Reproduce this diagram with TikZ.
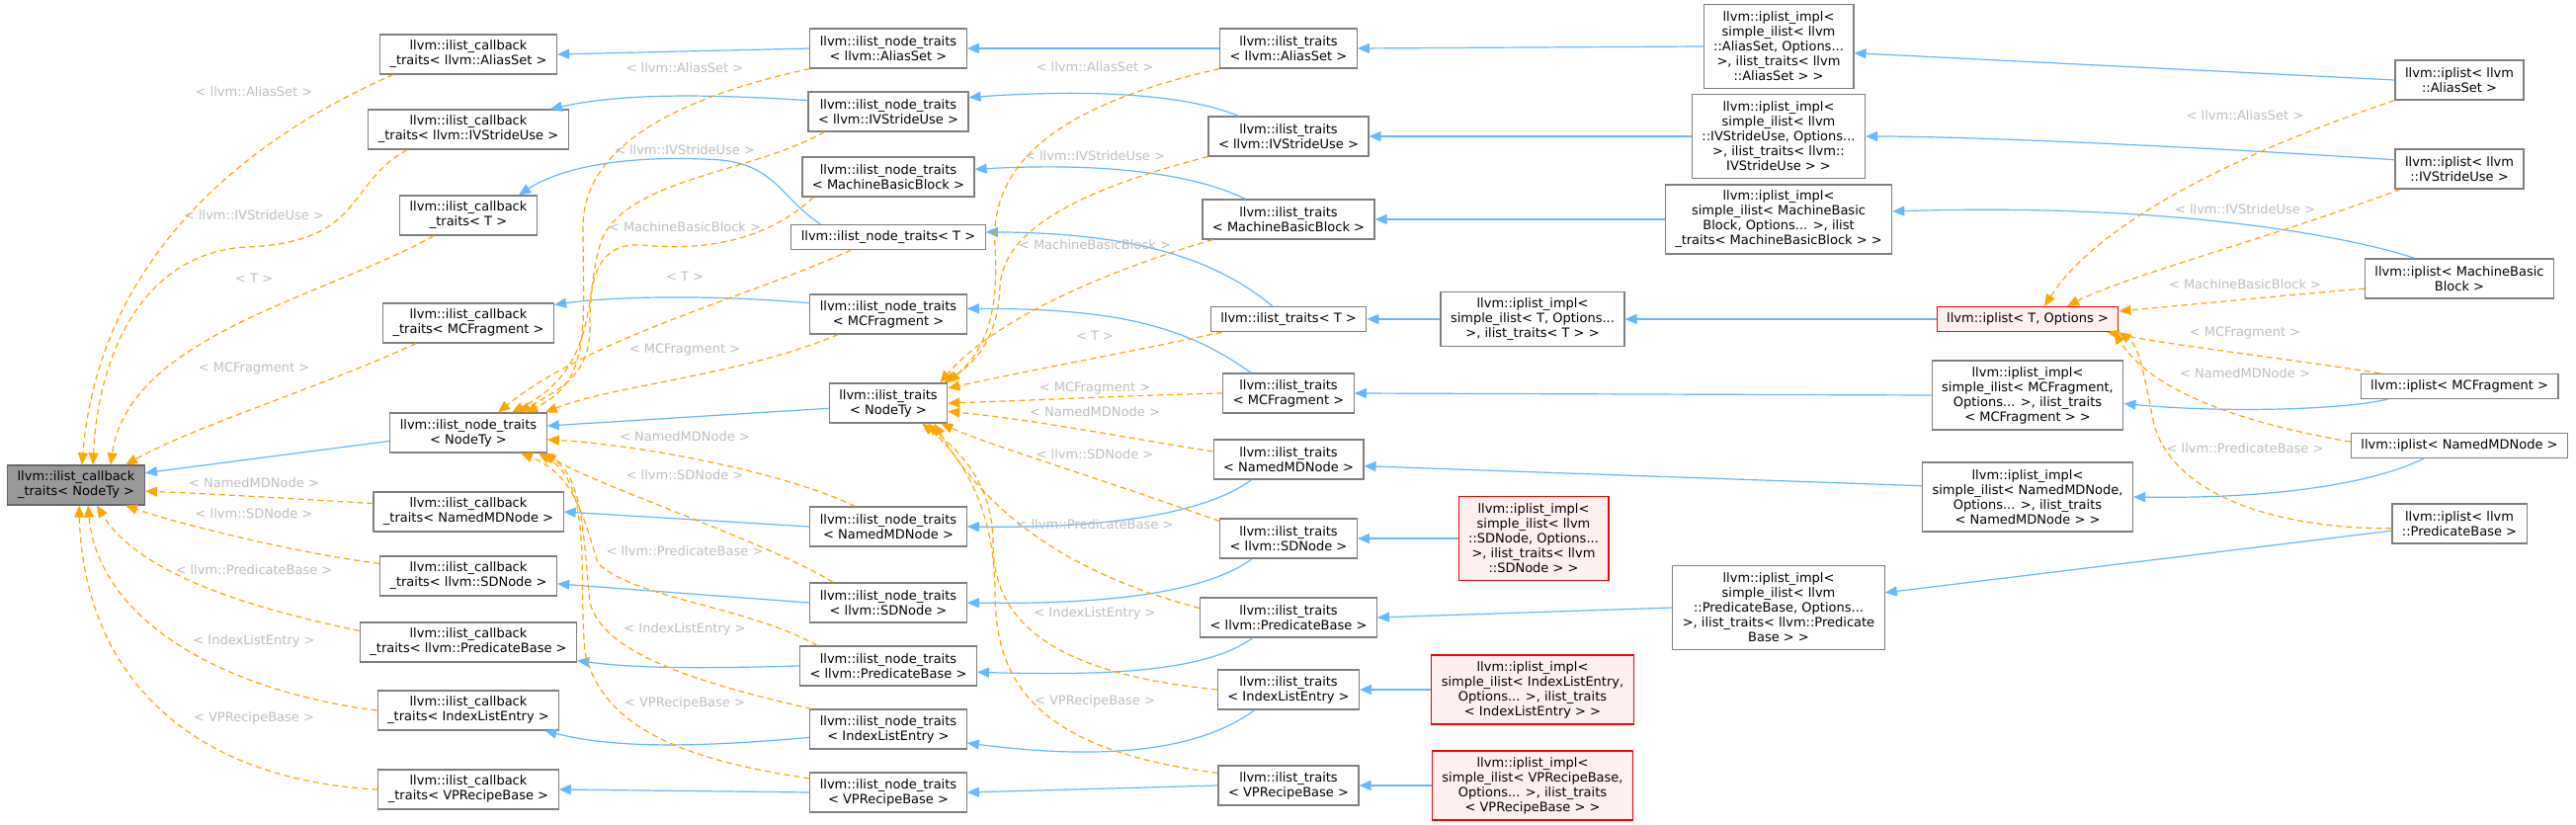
\documentclass[tikz,border=0pt]{standalone}
\usepackage{fontspec}
\setmainfont{DejaVu Sans}
\usetikzlibrary{arrows.meta}
\definecolor{inhblue}{HTML}{63B8FF}
\definecolor{tplorange}{HTML}{FFA500}
\definecolor{lblgray}{HTML}{BEBEBE}
\definecolor{boxgray}{HTML}{7F7F7F}
\definecolor{basegray}{HTML}{999999}
\definecolor{missfill}{HTML}{FFF0F0}

\begin{document}
\begin{tikzpicture}[
  x=1pt, y=-1pt,
  >={Triangle[length=12pt,width=10pt]},
  cls/.style  = {draw=boxgray, fill=white, line width=1.2pt, align=center,
                 inner xsep=10pt, inner ysep=0pt, font=\fontsize{13}{15}\selectfont},
  base/.style = {cls, draw=boxgray!80!black, fill=basegray},
  miss/.style = {cls, draw=red, fill=missfill},
  l1/.style   = {minimum height=25pt},
  l2/.style   = {minimum height=40pt},
  l3/.style   = {minimum height=55pt},
  l4/.style   = {minimum height=70pt},
  l5/.style   = {minimum height=85pt},
  inh/.style  = {->, draw=inhblue, line width=1.2pt},
  tpl/.style  = {->, draw=tplorange, line width=1.2pt, dash pattern=on 6pt off 4pt},
  lbl/.style  = {text=lblgray, inner sep=0pt, font=\fontsize{13}{15}\selectfont},
]
  \path[fill=white, use as bounding box] (0,0) rectangle (2607,835);

  \node[base, l2] (root) at (77,491)  {llvm::ilist\_callback\\\_traits< NodeTy >};

  \node[cls, l2]  (cbAS) at (474,55)  {llvm::ilist\_callback\\\_traits< llvm::AliasSet >};
  \node[cls, l2]  (cbIV) at (474,131) {llvm::ilist\_callback\\\_traits< llvm::IVStrideUse >};
  \node[cls, l2]  (cbT)  at (474,218) {llvm::ilist\_callback\\\_traits< T >};
  \node[cls, l2]  (cbMC) at (474,327) {llvm::ilist\_callback\\\_traits< MCFragment >};
  \node[cls, l2]  (ntNT) at (474,438) {llvm::ilist\_node\_traits\\< NodeTy >};
  \node[cls, l2]  (cbNM) at (474,518) {llvm::ilist\_callback\\\_traits< NamedMDNode >};
  \node[cls, l2]  (cbSD) at (474,583) {llvm::ilist\_callback\\\_traits< llvm::SDNode >};
  \node[cls, l2]  (cbPB) at (474,650) {llvm::ilist\_callback\\\_traits< llvm::PredicateBase >};
  \node[cls, l2]  (cbIL) at (474,719) {llvm::ilist\_callback\\\_traits< IndexListEntry >};
  \node[cls, l2]  (cbVP) at (474,799) {llvm::ilist\_callback\\\_traits< VPRecipeBase >};

  \node[cls, l2]  (ntAS) at (899,49)  {llvm::ilist\_node\_traits\\< llvm::AliasSet >};
  \node[cls, l2]  (ntIV) at (899,113) {llvm::ilist\_node\_traits\\< llvm::IVStrideUse >};
  \node[cls, l2]  (ntMB) at (899,179) {llvm::ilist\_node\_traits\\< MachineBasicBlock >};
  \node[cls, l1]  (ntT)  at (899,240) {llvm::ilist\_node\_traits< T >};
  \node[cls, l2]  (ntMC) at (899,318) {llvm::ilist\_node\_traits\\< MCFragment >};
  \node[cls, l2]  (tNT)  at (899,408) {llvm::ilist\_traits\\< NodeTy >};
  \node[cls, l2]  (ntNM) at (899,533) {llvm::ilist\_node\_traits\\< NamedMDNode >};
  \node[cls, l2]  (ntSD) at (899,610) {llvm::ilist\_node\_traits\\< llvm::SDNode >};
  \node[cls, l2]  (ntPB) at (899,674) {llvm::ilist\_node\_traits\\< llvm::PredicateBase >};
  \node[cls, l2]  (ntIL) at (899,738) {llvm::ilist\_node\_traits\\< IndexListEntry >};
  \node[cls, l2]  (ntVP) at (899,802) {llvm::ilist\_node\_traits\\< VPRecipeBase >};

  \node[cls, l2]  (tAS)  at (1304,49)  {llvm::ilist\_traits\\< llvm::AliasSet >};
  \node[cls, l2]  (tIV)  at (1304,138) {llvm::ilist\_traits\\< llvm::IVStrideUse >};
  \node[cls, l2]  (tMB)  at (1304,222) {llvm::ilist\_traits\\< MachineBasicBlock >};
  \node[cls, l1]  (tT)   at (1304,323) {llvm::ilist\_traits< T >};
  \node[cls, l2]  (tMC)  at (1304,398) {llvm::ilist\_traits\\< MCFragment >};
  \node[cls, l2]  (tNM)  at (1304,465) {llvm::ilist\_traits\\< NamedMDNode >};
  \node[cls, l2]  (tSD)  at (1304,545) {llvm::ilist\_traits\\< llvm::SDNode >};
  \node[cls, l2]  (tPB)  at (1304,625) {llvm::ilist\_traits\\< llvm::PredicateBase >};
  \node[cls, l2]  (tIL)  at (1304,698) {llvm::ilist\_traits\\< IndexListEntry >};
  \node[cls, l2]  (tVP)  at (1304,795) {llvm::ilist\_traits\\< VPRecipeBase >};

  \node[cls, l3]  (imT)  at (1551,323) {llvm::iplist\_impl<\\simple\_ilist< T, Options...\\>, ilist\_traits< T > >};
  \node[miss, l5] (imSD) at (1552,545) {llvm::iplist\_impl<\\simple\_ilist< llvm\\::SDNode, Options...\\>, ilist\_traits< llvm\\::SDNode > >};
  \node[miss, l4] (imIL) at (1551,698) {llvm::iplist\_impl<\\simple\_ilist< IndexListEntry,\\Options... >, ilist\_traits\\< IndexListEntry > >};
  \node[miss, l4] (imVP) at (1551,795) {llvm::iplist\_impl<\\simple\_ilist< VPRecipeBase,\\Options... >, ilist\_traits\\< VPRecipeBase > >};

  \node[cls, l5]  (imAS) at (1800,47)  {llvm::iplist\_impl<\\simple\_ilist< llvm\\::AliasSet, Options...\\>, ilist\_traits< llvm\\::AliasSet > >};
  \node[cls, l5]  (imIV) at (1800,138) {llvm::iplist\_impl<\\simple\_ilist< llvm\\::IVStrideUse, Options...\\>, ilist\_traits< llvm::\\IVStrideUse > >};
  \node[cls, l4]  (imMB) at (1800,222) {llvm::iplist\_impl<\\simple\_ilist< MachineBasic\\Block, Options... >, ilist\\\_traits< MachineBasicBlock > >};
  \node[cls, l5]  (imPB) at (1800,615) {llvm::iplist\_impl<\\simple\_ilist< llvm\\::PredicateBase, Options...\\>, ilist\_traits< llvm::Predicate\\Base > >};

  \node[miss, l1] (ipT)  at (2052,323) {llvm::iplist< T, Options >};
  \node[cls, l4]  (imMC) at (2052,400) {llvm::iplist\_impl<\\simple\_ilist< MCFragment,\\Options... >, ilist\_traits\\< MCFragment > >};
  \node[cls, l4]  (imNM) at (2052,503) {llvm::iplist\_impl<\\simple\_ilist< NamedMDNode,\\Options... >, ilist\_traits\\< NamedMDNode > >};

  \node[cls, l2]  (ipAS) at (2489,81)  {llvm::iplist< llvm\\::AliasSet >};
  \node[cls, l2]  (ipIV) at (2489,171) {llvm::iplist< llvm\\::IVStrideUse >};
  \node[cls, l2]  (ipMB) at (2489,282) {llvm::iplist< MachineBasic\\Block >};
  \node[cls, l1]  (ipMC) at (2489,391) {llvm::iplist< MCFragment >};
  \node[cls, l1]  (ipNM) at (2489,451) {llvm::iplist< NamedMDNode >};
  \node[cls, l2]  (ipPB) at (2489,530) {llvm::iplist< llvm\\::PredicateBase >};

  % inheritance
  \draw[inh] (ntNT.186) -- (root.10);
  \draw[inh] (ntAS.west) -- (cbAS.east);
  \draw[inh] (ntIV.172) .. controls (740,97) and (640,92) .. ([xshift=-19pt]cbIV.north east);
  \draw[inh] ([xshift=30pt]ntT.north west) .. controls (790,200) and (785,168) .. (730,162)
             .. controls (640,156) and (570,168) .. ([xshift=-19pt]cbT.north east);
  \draw[inh] (ntMC.172) .. controls (720,298) and (620,300) .. ([yshift=-2pt]cbMC.north east);
  \draw[inh] (ntNM.west) -- (cbNM.east);
  \draw[inh] (ntSD.west) -- (cbSD.355);
  \draw[inh] (ntPB.west) .. controls (700,677) and (640,676) .. ([yshift=2pt]cbPB.south east);
  \draw[inh] (ntIL.186) .. controls (700,757) and (620,757) .. ([xshift=-15pt]cbIL.south east);
  \draw[inh] (ntVP.west) -- (cbVP.east);

  \draw[inh] (tNT.185) -- (ntNT.5);
  \draw[inh] (tAS.west) -- (ntAS.east);
  \draw[inh] ([xshift=31pt]tIV.north west) .. controls (1200,95) and (1100,90) .. (ntIV.10);
  \draw[inh] ([xshift=44pt]tMB.north west) .. controls (1200,172) and (1100,165) .. (ntMB.5);
  \draw[inh] ([xshift=63pt]tT.north west) .. controls (1230,262) and (1150,236) .. (ntT.3);
  \draw[inh] ([xshift=29pt]tMC.north west) .. controls (1200,330) and (1130,312) .. (ntMC.4);
  \draw[inh] ([xshift=39pt]tNM.south west) .. controls (1220,520) and (1120,535) .. (ntNM.east);
  \draw[inh] ([xshift=33pt]tSD.south west) .. controls (1220,600) and (1120,612) .. (ntSD.east);
  \draw[inh] ([xshift=54pt]tPB.south west) .. controls (1220,680) and (1120,684) .. (ntPB.356);
  \draw[inh] ([xshift=38pt]tIL.south west) .. controls (1200,770) and (1080,765) .. (ntIL.350);
  \draw[inh] (tVP.west) -- (ntVP.east);

  \draw[inh] (imAS.west) -- (tAS.east);
  \draw[inh] (imIV.west) -- (tIV.east);
  \draw[inh] (imMB.west) -- (tMB.east);
  \draw[inh] (imT.west)  -- (tT.east);
  \draw[inh] (imMC.west) -- (tMC.east);
  \draw[inh] (imNM.174)  -- (tNM.355);
  \draw[inh] (imSD.west) -- (tSD.east);
  \draw[inh] (imPB.west) -- (tPB.east);
  \draw[inh] (imIL.west) -- (tIL.east);
  \draw[inh] (imVP.west) -- (tVP.east);

  \draw[inh] (ipT.west)  -- (imT.east);
  \draw[inh] (ipAS.west) -- (imAS.355);
  \draw[inh] (ipIV.172) .. controls (2250,150) and (2000,138) .. (imIV.east);
  \draw[inh] ([xshift=51pt]ipMB.north west) .. controls (2380,240) and (2200,205) .. (imMB.4);
  \draw[inh] ([xshift=28pt]ipMC.south west) .. controls (2370,415) and (2250,418) .. (imMC.355);
  \draw[inh] ([xshift=74pt]ipNM.south west) .. controls (2400,490) and (2300,505) .. (imNM.east);
  \draw[inh] (ipPB.186) -- (imPB.8);

  % template instances
  \draw[tpl] ([xshift=14pt]cbAS.south west) .. controls (250,140) and (100,260) .. ([xshift=6pt]root.north);
  \draw[tpl] ([xshift=40pt]cbIV.south west) .. controls (350,185) and (370,245) .. (250,250)
             .. controls (150,255) and (100,350) .. ([xshift=17pt]root.north);
  \draw[tpl] ([xshift=35pt]cbT.south west) .. controls (330,300) and (130,340) .. ([xshift=35pt]root.north);
  \draw[tpl] ([xshift=34pt]cbMC.south west) .. controls (330,390) and (200,430) .. ([xshift=-20pt]root.north east);
  \draw[tpl] (cbNM.175) .. controls (300,505) and (220,500) .. (root.355);
  \draw[tpl] (cbSD.172) .. controls (300,560) and (180,530) .. ([xshift=-20pt]root.south east);
  \draw[tpl] (cbPB.174) .. controls (250,615) and (140,580) .. ([xshift=21pt]root.south);
  \draw[tpl] (cbIL.west) .. controls (230,700) and (100,630) .. ([xshift=12pt]root.south);
  \draw[tpl] (cbVP.west) .. controls (200,790) and (85,690) .. ([xshift=3pt]root.south);

  \draw[tpl] (ntAS.south west) .. controls (680,100) and (590,150) .. (590,230)
             .. controls (590,330) and (600,385) .. ([xshift=58pt]ntNT.north);
  \draw[tpl] ([xshift=17pt]ntIV.south west) .. controls (760,175) and (640,180) .. (610,240)
             .. controls (590,290) and (610,370) .. ([xshift=44pt]ntNT.north);
  \draw[tpl] ([xshift=12pt]ntMB.south west) .. controls (780,240) and (720,255) .. (650,248)
             .. controls (600,245) and (597,290) .. (597,330)
             .. controls (598,380) and (565,395) .. ([xshift=51pt]ntNT.north);
  \draw[tpl] ([xshift=61pt]ntT.south west) .. controls (760,300) and (600,340) .. ([xshift=30pt]ntNT.north);
  \draw[tpl] ([xshift=29pt]ntMC.south west) .. controls (750,380) and (620,390) .. ([xshift=-2pt]ntNT.north east);
  \draw[tpl] ([xshift=46pt]ntNM.north west) .. controls (800,480) and (650,450) .. (ntNT.355);
  \draw[tpl] ([xshift=24pt]ntSD.north west) .. controls (780,550) and (600,490) .. ([xshift=-3pt]ntNT.south east);
  \draw[tpl] ([xshift=18pt]ntPB.north west) .. controls (760,615) and (640,605) .. (605,570)
             .. controls (590,520) and (580,480) .. ([xshift=53pt]ntNT.south);
  \draw[tpl] ([xshift=2pt]ntIL.north west) .. controls (700,690) and (610,660) .. (597,610)
             .. controls (590,540) and (590,480) .. ([xshift=-6pt]ntNT.south east);
  \draw[tpl] (ntVP.170) .. controls (700,770) and (610,740) .. (592,660)
             .. controls (585,580) and (600,490) .. ([xshift=71pt]ntNT.south);

  \draw[tpl] (tAS.south west) .. controls (1100,100) and (1000,150) .. (1007,250)
             .. controls (1012,330) and (990,360) .. (tNT.north east);
  \draw[tpl] (tIV.south west) .. controls (1100,190) and (1015,230) .. (1012,290)
             .. controls (1010,340) and (990,365) .. ([xshift=-4pt]tNT.north east);
  \draw[tpl] ([xshift=11pt]tMB.south west) .. controls (1100,280) and (1000,330) .. ([xshift=-8pt]tNT.north east);
  \draw[tpl] ([xshift=12pt]tT.south west) .. controls (1150,355) and (1040,375) .. (tNT.14);
  \draw[tpl] (tMC.west) .. controls (1150,400) and (1050,405) .. (tNT.east);
  \draw[tpl] (tNM.174) .. controls (1150,445) and (1050,425) .. (tNT.352);
  \draw[tpl] ([yshift=-3pt]tSD.north west) .. controls (1100,480) and (1000,450) .. ([xshift=-7pt]tNT.south east);
  \draw[tpl] (tPB.174) .. controls (1080,580) and (1000,520) .. ([xshift=-14pt]tNT.south east);
  \draw[tpl] (tIL.west) .. controls (1050,680) and (1005,620) .. (1005,550)
             .. controls (1005,480) and (960,450) .. ([xshift=-20pt]tNT.south east);
  \draw[tpl] (tVP.170) .. controls (1060,760) and (1007,700) .. (1007,600)
             .. controls (1007,500) and (960,450) .. ([xshift=-26pt]tNT.south east);

  \draw[tpl] (ipAS.south west) .. controls (2250,160) and (2120,230) .. ([xshift=17pt]ipT.north);
  \draw[tpl] ([xshift=6pt]ipIV.south west) .. controls (2300,240) and (2150,280) .. ([xshift=40pt]ipT.north);
  \draw[tpl] (ipMB.186) .. controls (2300,300) and (2200,310) .. (ipT.5);
  \draw[tpl] ([xshift=20pt]ipMC.north west) .. controls (2330,365) and (2200,350) .. ([xshift=-12pt]ipT.south east);
  \draw[tpl] (ipNM.178) .. controls (2280,430) and (2180,400) .. ([xshift=-5pt]ipT.south east);
  \draw[tpl] (ipPB.184) .. controls (2300,535) and (2200,500) .. (2180,430)
             .. controls (2170,380) and (2165,350) .. (ipT.south east);

  % labels
  \node[lbl] (rAS) at (257,93)  {< llvm::AliasSet >};
  \node[lbl] (rIV) at (257,218) {< llvm::IVStrideUse >};
  \node[lbl] (rT)  at (257,282) {< T >};
  \node[lbl] (rMC) at (257,373) {< MCFragment >};
  \node[lbl] (rNM) at (257,489) {< NamedMDNode >};
  \node[lbl] (rSD) at (257,520) {< llvm::SDNode >};
  \node[lbl] (rPB) at (257,577) {< llvm::PredicateBase >};
  \node[lbl] (rIL) at (257,649) {< IndexListEntry >};
  \node[lbl] (rVP) at (257,727) {< VPRecipeBase >};

  \node[lbl] (nAS) at (693,69)  {< llvm::AliasSet >};
  \node[lbl] (nIV) at (693,152) {< llvm::IVStrideUse >};
  \node[lbl] (nMB) at (693,230) {< MachineBasicBlock >};
  \node[lbl] (nT)  at (693,280) {< T >};
  \node[lbl] (nMC) at (693,354) {< MCFragment >};
  \node[lbl] (nNM) at (693,442) {< NamedMDNode >};
  \node[lbl] (nSD) at (693,481) {< llvm::SDNode >};
  \node[lbl] (nPB) at (693,558) {< llvm::PredicateBase >};
  \node[lbl] (nIL) at (693,637) {< IndexListEntry >};
  \node[lbl] (nVP) at (693,712) {< VPRecipeBase >};

  \node[lbl] (tlAS) at (1108,68)  {< llvm::AliasSet >};
  \node[lbl] (tlIV) at (1108,158) {< llvm::IVStrideUse >};
  \node[lbl] (tlMB) at (1108,248) {< MachineBasicBlock >};
  \node[lbl] (tlT)  at (1108,340) {< T >};
  \node[lbl] (tlMC) at (1108,393) {< MCFragment >};
  \node[lbl] (tlNM) at (1108,417) {< NamedMDNode >};
  \node[lbl] (tlSD) at (1108,460) {< llvm::SDNode >};
  \node[lbl] (tlPB) at (1108,531) {< llvm::PredicateBase >};
  \node[lbl] (tlIL) at (1108,621) {< IndexListEntry >};
  \node[lbl] (tlVP) at (1108,710) {< VPRecipeBase >};

  \node[lbl] (pAS) at (2272,117) {< llvm::AliasSet >};
  \node[lbl] (pIV) at (2272,212) {< llvm::IVStrideUse >};
  \node[lbl] (pMB) at (2272,288) {< MachineBasicBlock >};
  \node[lbl] (pMC) at (2272,337) {< MCFragment >};
  \node[lbl] (pNM) at (2272,378) {< NamedMDNode >};
  \node[lbl] (pPB) at (2272,454) {< llvm::PredicateBase >};
\end{tikzpicture}
\end{document}
